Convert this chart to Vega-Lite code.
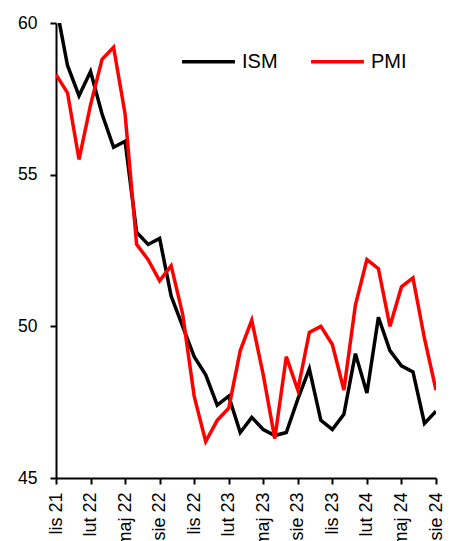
{
  "$schema": "https://vega.github.io/schema/vega-lite/v6.json",
  "width": 380,
  "height": 455,
  "autosize": "none",
  "padding": {"left": 56, "top": 23, "right": 18, "bottom": 63},
  "background": "white",
  "config": {"view": {"stroke": null}, "font": "Liberation Sans"},
  "datasets": {
    "d": [
      {"m":"lis 21","s":"ISM","v":60.6},{"m":"gru 21","s":"ISM","v":58.6},{"m":"sty 22","s":"ISM","v":57.6},{"m":"lut 22","s":"ISM","v":58.4},{"m":"mar 22","s":"ISM","v":57.0},{"m":"kwi 22","s":"ISM","v":55.9},{"m":"maj 22","s":"ISM","v":56.1},{"m":"cze 22","s":"ISM","v":53.1},{"m":"lip 22","s":"ISM","v":52.7},{"m":"sie 22","s":"ISM","v":52.9},{"m":"wrz 22","s":"ISM","v":51.0},{"m":"paź 22","s":"ISM","v":50.0},{"m":"lis 22","s":"ISM","v":49.0},{"m":"gru 22","s":"ISM","v":48.4},{"m":"sty 23","s":"ISM","v":47.4},{"m":"lut 23","s":"ISM","v":47.7},{"m":"mar 23","s":"ISM","v":46.5},{"m":"kwi 23","s":"ISM","v":47.0},{"m":"maj 23","s":"ISM","v":46.6},{"m":"cze 23","s":"ISM","v":46.4},{"m":"lip 23","s":"ISM","v":46.5},{"m":"sie 23","s":"ISM","v":47.6},{"m":"wrz 23","s":"ISM","v":48.6},{"m":"paź 23","s":"ISM","v":46.9},{"m":"lis 23","s":"ISM","v":46.6},{"m":"gru 23","s":"ISM","v":47.1},{"m":"sty 24","s":"ISM","v":49.1},{"m":"lut 24","s":"ISM","v":47.8},{"m":"mar 24","s":"ISM","v":50.3},{"m":"kwi 24","s":"ISM","v":49.2},{"m":"maj 24","s":"ISM","v":48.7},{"m":"cze 24","s":"ISM","v":48.5},{"m":"lip 24","s":"ISM","v":46.8},{"m":"sie 24","s":"ISM","v":47.2},
      {"m":"lis 21","s":"PMI","v":58.3},{"m":"gru 21","s":"PMI","v":57.7},{"m":"sty 22","s":"PMI","v":55.5},{"m":"lut 22","s":"PMI","v":57.3},{"m":"mar 22","s":"PMI","v":58.8},{"m":"kwi 22","s":"PMI","v":59.2},{"m":"maj 22","s":"PMI","v":57.0},{"m":"cze 22","s":"PMI","v":52.7},{"m":"lip 22","s":"PMI","v":52.2},{"m":"sie 22","s":"PMI","v":51.5},{"m":"wrz 22","s":"PMI","v":52.0},{"m":"paź 22","s":"PMI","v":50.4},{"m":"lis 22","s":"PMI","v":47.7},{"m":"gru 22","s":"PMI","v":46.2},{"m":"sty 23","s":"PMI","v":46.9},{"m":"lut 23","s":"PMI","v":47.3},{"m":"mar 23","s":"PMI","v":49.2},{"m":"kwi 23","s":"PMI","v":50.2},{"m":"maj 23","s":"PMI","v":48.4},{"m":"cze 23","s":"PMI","v":46.3},{"m":"lip 23","s":"PMI","v":49.0},{"m":"sie 23","s":"PMI","v":47.9},{"m":"wrz 23","s":"PMI","v":49.8},{"m":"paź 23","s":"PMI","v":50.0},{"m":"lis 23","s":"PMI","v":49.4},{"m":"gru 23","s":"PMI","v":47.9},{"m":"sty 24","s":"PMI","v":50.7},{"m":"lut 24","s":"PMI","v":52.2},{"m":"mar 24","s":"PMI","v":51.9},{"m":"kwi 24","s":"PMI","v":50.0},{"m":"maj 24","s":"PMI","v":51.3},{"m":"cze 24","s":"PMI","v":51.6},{"m":"lip 24","s":"PMI","v":49.6},{"m":"sie 24","s":"PMI","v":47.9}
    ]
  },
  "data": {"name": "d"},
  "mark": {"type": "line", "strokeWidth": 3.5, "clip": true, "strokeJoin": "miter", "strokeCap": "butt"},
  "encoding": {
    "x": {
      "field": "m", "type": "ordinal", "sort": null,
      "scale": {"type": "point", "padding": 0},
      "axis": {
        "title": null,
        "values": ["lis 21","lut 22","maj 22","sie 22","lis 22","lut 23","maj 23","sie 23","lis 23","lut 24","maj 24","sie 24"],
        "labelAngle": -90, "labelAlign": "right", "labelBaseline": "middle",
        "labelFontSize": 18, "labelColor": "#000000", "labelPadding": 8,
        "tickSize": 6, "tickColor": "#000000", "tickWidth": 2,
        "domainColor": "#000000", "domainWidth": 2, "grid": false
      }
    },
    "y": {
      "field": "v", "type": "quantitative",
      "scale": {"domain": [45, 60], "nice": false, "zero": false},
      "axis": {
        "title": null, "values": [45, 50, 55, 60],
        "labelFontSize": 17.5, "labelColor": "#000000", "labelPadding": 13,
        "tickSize": 6, "tickColor": "#000000", "tickWidth": 2,
        "domainColor": "#000000", "domainWidth": 2, "grid": false
      }
    },
    "color": {
      "field": "s", "type": "nominal",
      "scale": {"domain": ["ISM", "PMI"], "range": ["#000000", "#ff0000"]},
      "legend": {
        "title": null, "orient": "none", "legendX": 124, "legendY": 10,
        "direction": "horizontal", "symbolType": "stroke", "symbolSize": 2800,
        "symbolStrokeWidth": 3.5, "labelFontSize": 20, "labelColor": "#000000",
        "labelOffset": 5, "columnPadding": 26
      }
    }
  }
}
